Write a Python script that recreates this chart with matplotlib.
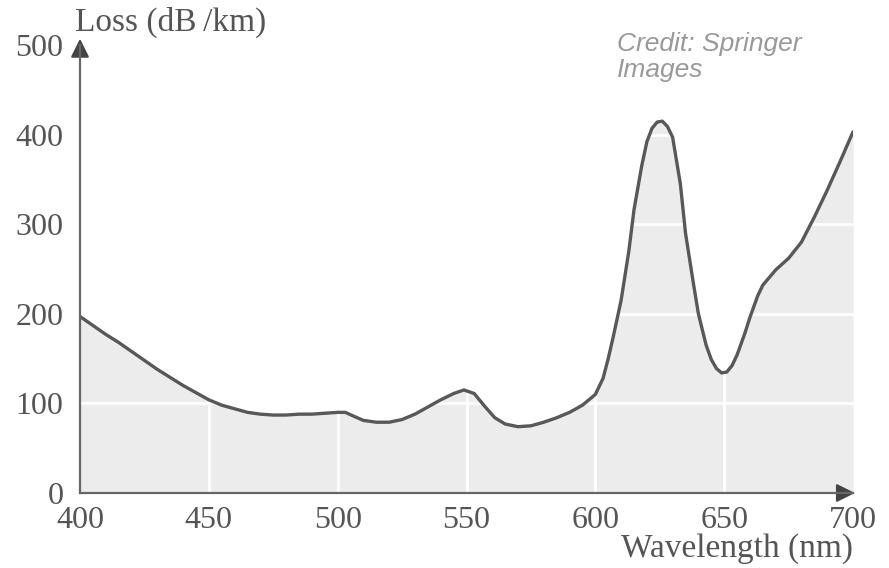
import matplotlib
matplotlib.use("Agg")
import matplotlib.pyplot as plt

# loss spectrum
wavelength = [400, 405, 410, 415, 420, 425, 430, 435, 440, 445, 450, 455, 460,
              465, 470, 475, 480, 485, 490, 495, 500, 503, 506, 510, 515, 520,
              525, 530, 535, 540, 545, 549, 553, 557, 561, 565, 570, 575, 580,
              585, 590, 595, 600, 603, 605, 607, 610, 613, 615, 618, 620, 622,
              624, 626, 628, 630, 633, 635, 638, 640, 643, 645, 647, 649, 651,
              653, 655, 658, 660, 663, 665, 670, 675, 680, 685, 690, 695, 700]
loss = [197, 187, 177, 168, 158, 148, 138, 129, 120, 112, 104, 98, 94,
        90, 88, 87, 87, 88, 88, 89, 90, 90, 86, 81, 79, 79,
        82, 88, 96, 104, 111, 115, 111, 97, 84, 77, 74, 75, 79,
        84, 90, 98, 110, 128, 150, 175, 215, 270, 316, 365, 392, 407,
        414, 415, 409, 397, 345, 290, 235, 200, 165, 149, 139, 134, 135,
        142, 154, 178, 196, 220, 232, 249, 262, 280, 308, 338, 370, 403]

xticks = [400, 450, 500, 550, 600, 650, 700]
yticks = [0, 100, 200, 300, 400, 500]

txt = "#555555"
plt.rcParams['font.family'] = ['Liberation Serif', 'DejaVu Serif']

fig = plt.figure(figsize=(8.89, 5.68), dpi=100)
ax = fig.add_axes([80 / 889, 75 / 568, 773 / 889, 448 / 568])
ax.set_xlim(400, 700)
ax.set_ylim(0, 500)

ax.fill_between(wavelength, loss, 0, color="#ececec", lw=0, zorder=1)
for x in xticks[1:-1]:
    ax.axvline(x, color="white", lw=2, zorder=2)
for y in yticks[1:-1]:
    ax.axhline(y, color="white", lw=2, zorder=2)
ax.plot(wavelength, loss, color="#585858", lw=2.4, zorder=3,
        solid_capstyle="round", solid_joinstyle="round")

for s in ["top", "right"]:
    ax.spines[s].set_visible(False)
for s in ["left", "bottom"]:
    ax.spines[s].set_color("#666666")
    ax.spines[s].set_linewidth(1.6)
    ax.spines[s].set_zorder(4)

ax.set_xticks(xticks)
ax.set_yticks(yticks)
ax.tick_params(length=0, labelsize=23, labelcolor=txt)
ax.tick_params(axis="x", pad=9)
ax.tick_params(axis="y", pad=12)

# arrow heads at the axis ends
ax.annotate("", xy=(0, 1.02), xytext=(0, 0.98), xycoords="axes fraction",
            arrowprops=dict(arrowstyle="-|>", color="#444444", lw=1.5,
                            mutation_scale=28), annotation_clip=False)
ax.annotate("", xy=(1.006, 0), xytext=(0.98, 0), xycoords="axes fraction",
            arrowprops=dict(arrowstyle="-|>", color="#444444", lw=1.5,
                            mutation_scale=28), annotation_clip=False)

fig.text(75 / 889, 1 - 22 / 568, "Loss (dB\u2009/km)", fontsize=24, color=txt,
         ha="left", va="center")
fig.text(853 / 889, 1 - 549 / 568, "Wavelength (nm)", fontsize=24, color=txt,
         ha="right", va="center")
fig.text(617 / 889, 1 - 57 / 568, "Credit: Springer\nImages", fontsize=19,
         color="#999999", style="italic", family="Liberation Sans",
         ha="left", va="center", linespacing=1.15)

fig.savefig("out.png", dpi=100, facecolor="white")
